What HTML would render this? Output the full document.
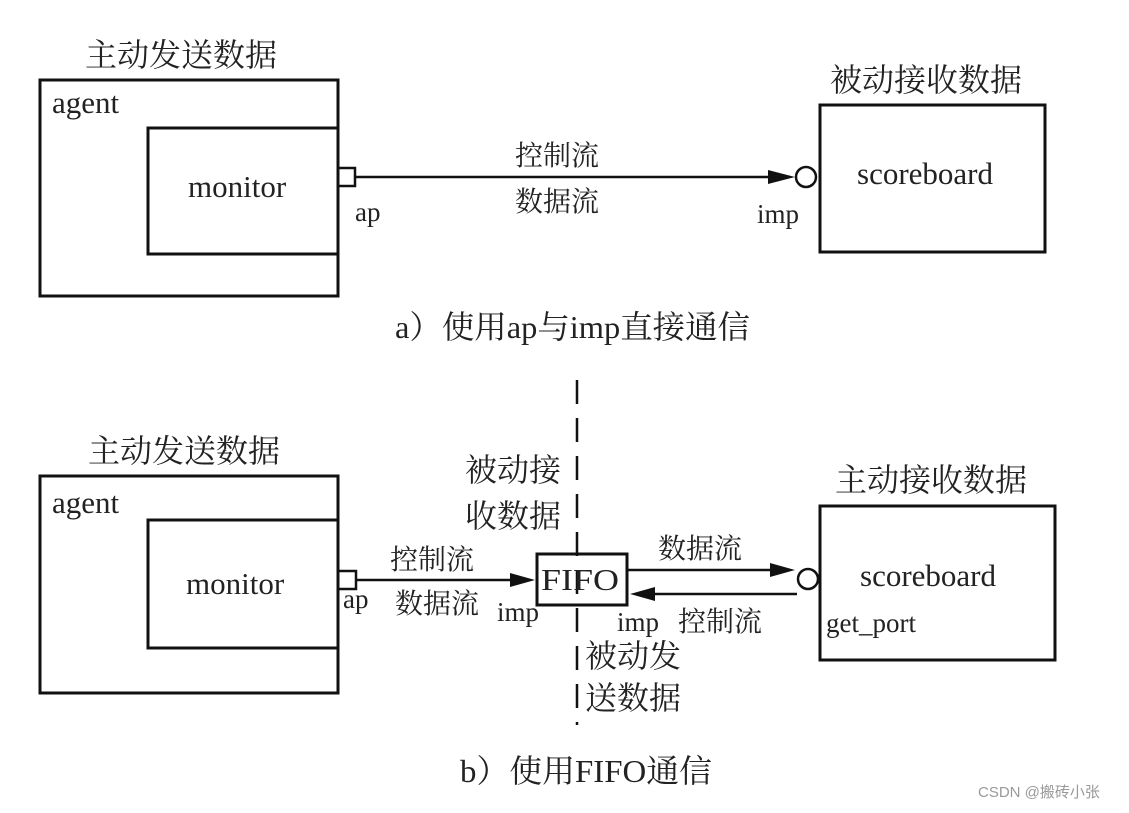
<!DOCTYPE html>
<html><head><meta charset="utf-8"><style>
body{margin:0;background:#fff;}
svg text{font-family:"Liberation Serif","Noto Serif CJK SC",serif;fill:#222;}
</style></head><body>
<svg width="1129" height="808" viewBox="0 0 1129 808" xmlns="http://www.w3.org/2000/svg">
<g fill="none" stroke="#111" stroke-width="3">
<rect x="40" y="80" width="298" height="216"/>
<path d="M338,128 H148 V254 H338"/>
<rect x="338" y="168" width="17" height="18" stroke-width="2.5"/>
<rect x="820" y="105" width="225" height="147"/>
<rect x="40" y="476" width="298" height="217"/>
<path d="M338,520 H148 V648 H338"/>
<rect x="338" y="571" width="18" height="18" stroke-width="2.5"/>
<rect x="537" y="554" width="90" height="51"/>
<rect x="820" y="506" width="235" height="154"/>
</g>
<g stroke="#111" stroke-width="2.5" fill="none">
<line x1="355" y1="177" x2="768" y2="177"/>
<circle cx="806" cy="177" r="10"/>
<line x1="356" y1="580" x2="512" y2="580"/>
<line x1="627" y1="570" x2="772" y2="570"/>
<line x1="797" y1="594" x2="652" y2="594"/>
<circle cx="808" cy="579" r="10"/>
<line x1="577" y1="380" x2="577" y2="725" stroke-dasharray="24,14" stroke-width="2.5"/>
</g>
<g fill="#111">
<path d="M768,170 L795,177 L768,184Z"/>
<path d="M510,573 L535,580 L510,587Z"/>
<path d="M770,563 L795,570 L770,577Z"/>
<path d="M655,587 L630,594 L655,601Z"/>
</g>
<g font-size="32">
<text x="85" y="66">主动发送数据</text>
<text x="830" y="91">被动接收数据</text>
<text x="88" y="462">主动发送数据</text>
<text x="835" y="491">主动接收数据</text>
<text x="465" y="481">被动接</text>
<text x="465" y="527">收数据</text>
<text x="585" y="667">被动发</text>
<text x="585" y="709">送数据</text>
</g>
<g font-size="31">
<text x="52" y="113">agent</text>
<text x="188" y="197">monitor</text>
<text x="857" y="184">scoreboard</text>
<text x="52" y="513">agent</text>
<text x="186" y="594">monitor</text>
<text x="860" y="586">scoreboard</text>
<text x="541" y="590" textLength="78" lengthAdjust="spacingAndGlyphs">FIFO</text>
</g>
<g font-size="28">
<text x="515" y="165">控制流</text>
<text x="515" y="211">数据流</text>
<text x="390" y="569">控制流</text>
<text x="395" y="613">数据流</text>
<text x="658" y="558">数据流</text>
<text x="678" y="631">控制流</text>
</g>
<g font-size="27">
<text x="355" y="221">ap</text>
<text x="757" y="223">imp</text>
<text x="343" y="608">ap</text>
<text x="497" y="621">imp</text>
<text x="617" y="631">imp</text>
<text x="826" y="632">get_port</text>
</g>
<text x="395" y="338" font-size="32" textLength="355" lengthAdjust="spacingAndGlyphs">a）使用ap与imp直接通信</text>
<text x="460" y="782" font-size="32" textLength="252" lengthAdjust="spacingAndGlyphs">b）使用FIFO通信</text>
<text x="978" y="797" font-size="15" style="font-family:'Liberation Sans','Noto Sans CJK SC',sans-serif;fill:#999">CSDN @搬砖小张</text>
</svg>
</body></html>
